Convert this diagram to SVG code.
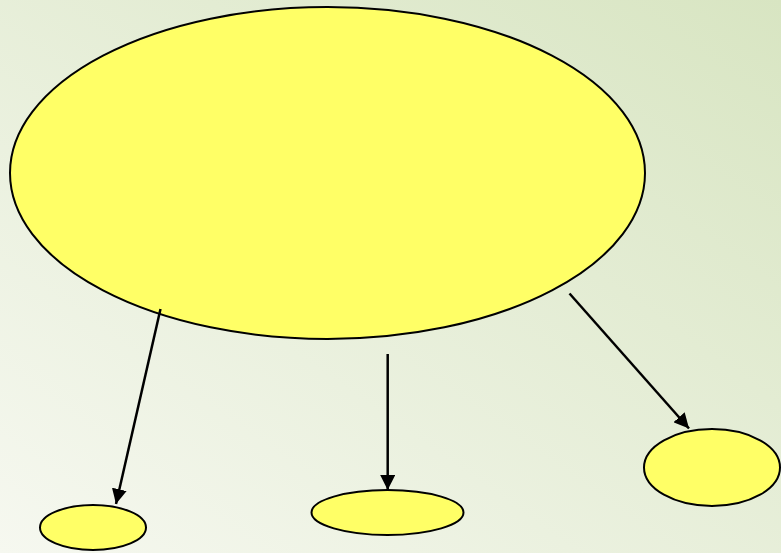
<svg xmlns="http://www.w3.org/2000/svg" width="781" height="553" viewBox="0 0 781 553">
<defs>
<linearGradient id="bg" x1="1" y1="0" x2="0" y2="1">
<stop offset="0" stop-color="#d8e5c2"/>
<stop offset="1" stop-color="#f6f8f0"/>
</linearGradient>
<marker id="ah" viewBox="0 0 10 10" refX="10" refY="5" markerWidth="6" markerHeight="6" markerUnits="strokeWidth" orient="auto">
<path d="M0,0 L10,5 L0,10 z" fill="#000"/>
</marker>
<style>
.node{fill:#ffff66;stroke:#000;stroke-width:2}
.edge{stroke:#000;stroke-width:2.5;fill:none;marker-end:url(#ah)}
</style>
</defs>
<rect width="781" height="553" fill="url(#bg)"/>
<g id="main"><ellipse class="node" cx="327.5" cy="173" rx="317.5" ry="166"/></g>
<g id="left"><ellipse class="node" cx="93" cy="527.5" rx="53" ry="22.5"/></g>
<g id="middle"><ellipse class="node" cx="387.5" cy="512.5" rx="76" ry="22.5"/></g>
<g id="right"><ellipse class="node" cx="712" cy="467.5" rx="68" ry="38.5"/></g>
<g id="connectors">
<line class="edge" x1="160.5" y1="309" x2="116" y2="504"/>
<line class="edge" x1="387.7" y1="354" x2="387.7" y2="490"/>
<line class="edge" x1="569.5" y1="293.5" x2="689" y2="428.5"/>
</g>
</svg>
